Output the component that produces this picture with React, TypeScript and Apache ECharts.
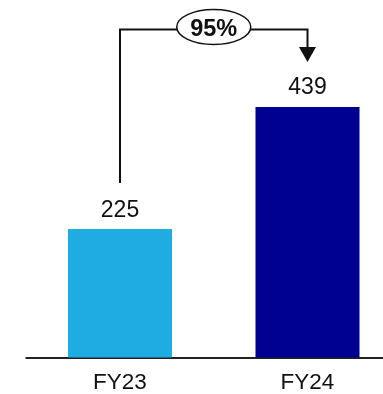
import React, { useEffect, useRef } from "react";
import * as echarts from "echarts";

const categories = ["FY23", "FY24"];
const values = [225, 439];
const barColors = ["#1EACE3", "#000091"];

const FONT = "Liberation Sans, Arial, Helvetica, sans-serif";

export default function App() {
  const ref = useRef<HTMLDivElement>(null);

  useEffect(() => {
    if (!ref.current) return;
    const chart = echarts.init(ref.current, undefined, { renderer: "svg" });

    chart.setOption({
      animation: false,
      grid: {
        left: 26.25,
        width: 375,
        top: 15,
        bottom: 36.5,
        outerBoundsMode: "none",
        containLabel: false,
      },
      xAxis: {
        type: "category",
        data: categories,
        axisLine: { lineStyle: { color: "#222", width: 2 } },
        axisTick: { show: false },
        axisLabel: {
          color: "#111",
          fontSize: 22.5,
          lineHeight: 18,
          fontFamily: FONT,
          margin: 15,
        },
      },
      yAxis: {
        type: "value",
        min: 0,
        max: 600,
        show: false,
        splitLine: { show: false },
      },
      series: [
        {
          type: "bar",
          barWidth: 104,
          data: values.map((v, i) => ({
            value: v,
            itemStyle: { color: barColors[i] },
          })),
          label: {
            show: true,
            position: "top",
            distance: 9,
            color: "#111",
            fontSize: 23,
            fontFamily: FONT,
          },
        },
      ],
    });

    // Growth connector from the first bar to the second
    const p0 = chart.convertToPixel({ gridIndex: 0 }, [0, values[0]]) as number[];
    const p1 = chart.convertToPixel({ gridIndex: 0 }, [1, values[1]]) as number[];
    const topY = 29.5;
    const startY = p0[1] - 46;
    const tipY = p1[1] - 45;
    const headH = 15;
    const headW = 8.5;
    const midX = (p0[0] + p1[0]) / 2;
    const growth = Math.round((values[1] / values[0] - 1) * 100);

    chart.setOption({
      graphic: [
        {
          type: "polyline",
          shape: {
            points: [
              [p0[0], startY],
              [p0[0], topY],
              [p1[0], topY],
              [p1[0], tipY - headH],
            ],
          },
          style: { stroke: "#111", lineWidth: 2, fill: null },
          z: 10,
        },
        {
          type: "polygon",
          shape: {
            points: [
              [p1[0] - headW, tipY - headH],
              [p1[0] + headW, tipY - headH],
              [p1[0], tipY],
            ],
          },
          style: { fill: "#111" },
          z: 10,
        },
        {
          type: "ellipse",
          shape: { cx: midX, cy: 27, rx: 37, ry: 17.5 },
          style: { fill: "#fff", stroke: "#111", lineWidth: 1.5 },
          z: 11,
        },
        {
          type: "text",
          x: midX,
          y: 28,
          style: {
            text: `${growth}%`,
            fontSize: 23.5,
            fontWeight: "bold",
            fontFamily: FONT,
            fill: "#111",
            align: "center",
            verticalAlign: "middle",
          },
          z: 12,
        },
      ],
    });

    return () => chart.dispose();
  }, []);

  return (
    <div
      ref={ref}
      style={{ position: "fixed", left: 0, top: 0, width: 383, height: 394 }}
    />
  );
}
